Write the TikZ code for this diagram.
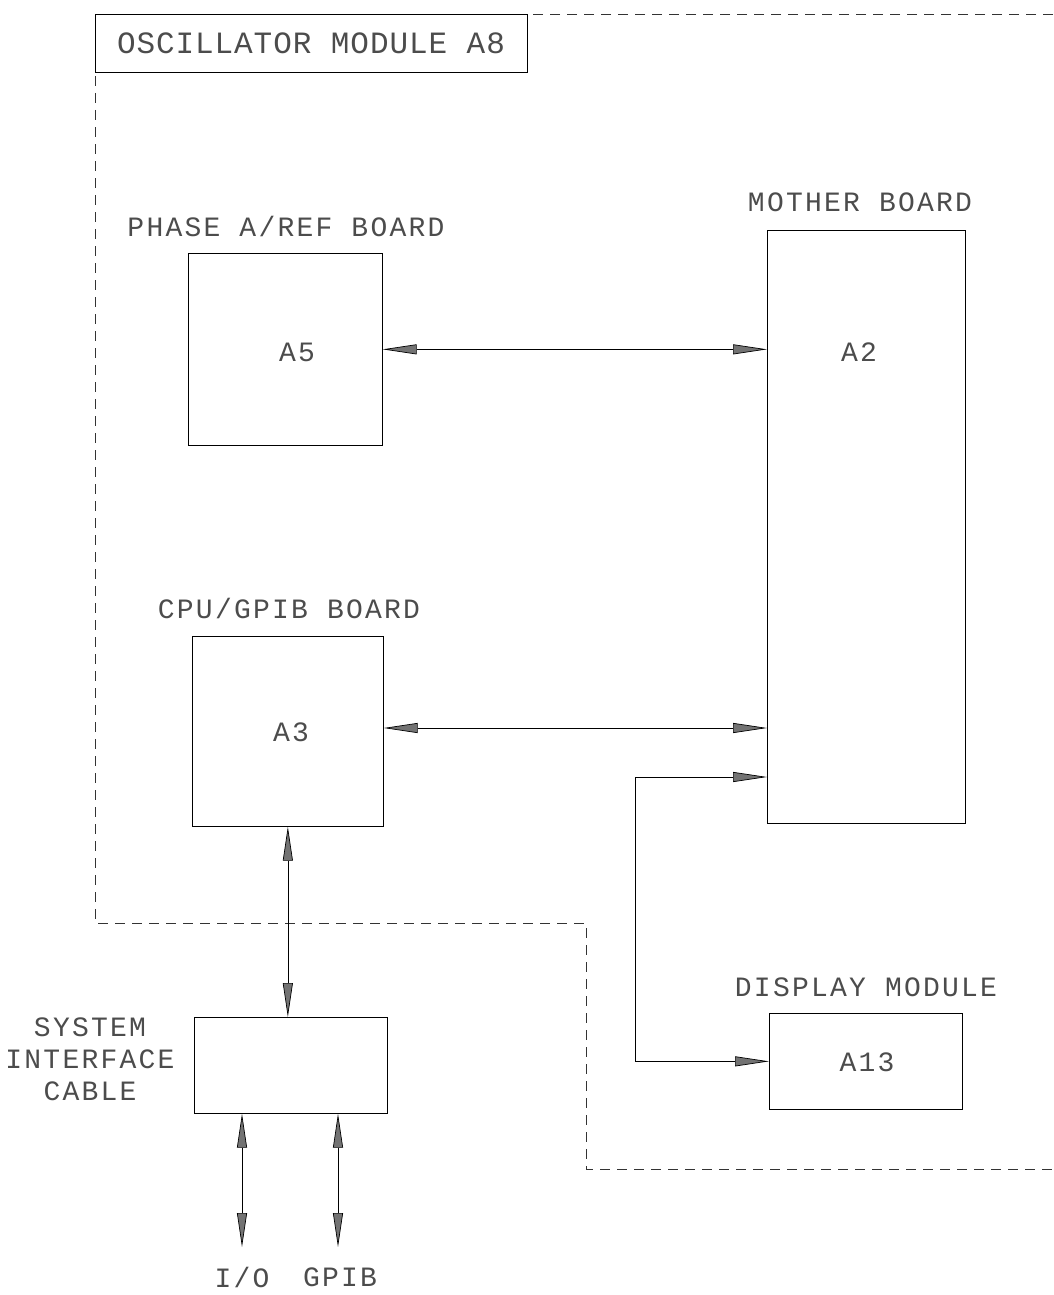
\documentclass[tikz,border=0pt]{standalone}
\usepackage{fontspec}
\usetikzlibrary{arrows.meta}
\newfontfamily\plotfont[LetterSpace=8]{Liberation Mono}
\newfontfamily\plottitle[LetterSpace=3]{Liberation Mono}
\begin{document}
\begin{tikzpicture}[x=1pt,y=-1pt,
  box/.style={draw=black, line width=0.7pt, inner sep=0pt, anchor=north west},
  lbl/.style={text=black!70, inner sep=0pt, font=\plotfont\fontsize{28}{32}\selectfont},
  conn/.style={draw=black, line width=0.7pt, >={Triangle[length=34pt,width=10pt,fill=black!55]}},
  bound/.style={draw=black!80, line width=0.7pt, dash pattern=on 10pt off 7pt}
]
\useasboundingbox (0,0) rectangle (1053,1295);
% boundary of oscillator module
\draw[bound] (1053,14) -- (95,14) -- (95,923) -- (586,923) -- (586,1169) -- (1053,1169);
\node[box, minimum width=432pt, minimum height=58pt] (title) at (95,14) {};
\node[text=black!70, inner sep=0pt, font=\plottitle\fontsize{31}{34}\selectfont] (titlet) at (311,43) {OSCILLATOR MODULE A8};
% boxes
\node[box, minimum width=194pt, minimum height=192pt] (a5) at (188,253) {};
\node[box, minimum width=198pt, minimum height=593pt] (a2) at (767,230) {};
\node[box, minimum width=191pt, minimum height=190pt] (a3) at (192,636) {};
\node[box, minimum width=193pt, minimum height=96pt] (sys) at (194,1017) {};
\node[box, minimum width=193pt, minimum height=96pt] (a13) at (769,1013) {};
% texts in boxes
\node[lbl] (a5t) at (297,352) {A5};
\node[lbl] (a2t) at (859,352) {A2};
\node[lbl] (a3t) at (291,732) {A3};
\node[lbl] (a13t) at (867,1062) {A13};
% labels
\node[lbl] (l5) at (286,226) {PHASE A/REF BOARD};
\node[lbl] (l2) at (860,202) {MOTHER BOARD};
\node[lbl] (l3) at (289,608) {CPU/GPIB BOARD};
\node[lbl] (l13) at (866,987) {DISPLAY MODULE};
\node[lbl] (ls1) at (90,1027) {SYSTEM};
\node[lbl] (ls2) at (90,1059) {INTERFACE};
\node[lbl] (ls3) at (90,1091) {CABLE};
\node[lbl] (lio) at (242,1277) {I/O};
\node[lbl] (lgp) at (340,1277) {GPIB};
% connectors
\coordinate (j) at (635,777);
\coordinate (io) at (242,1247);
\coordinate (gp) at (338,1247);
\draw[conn, <->] (a5.east) -- (a5.east -| a2.west);
\draw[conn, <->] (a3.east |- 0,728) -- (a2.west |- 0,728);
\draw[conn, <->] (a13.west) -| (j) -- (a2.west |- j);
\draw[conn, <->] (a3.south) -- (a3.south |- sys.north);
\draw[conn, <->] (sys.south -| io) -- (io);
\draw[conn, <->] (sys.south -| gp) -- (gp);
\end{tikzpicture}
\end{document}
